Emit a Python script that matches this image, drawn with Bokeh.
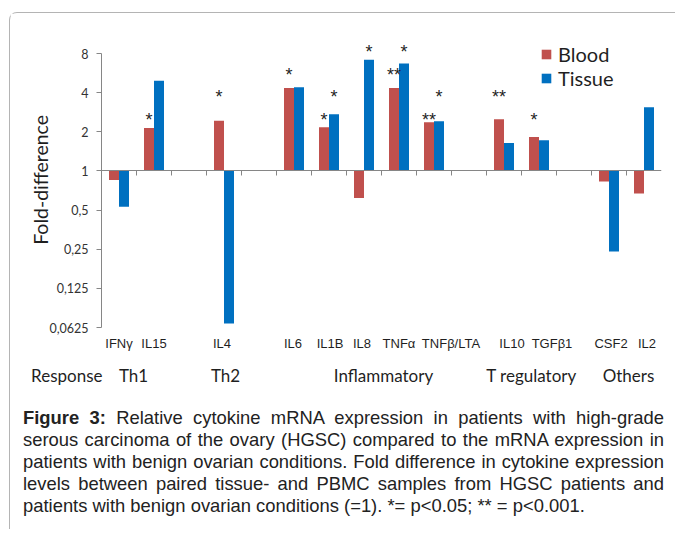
import html
import math
from bokeh.plotting import figure
from bokeh.models import (Range1d, FixedTicker, LinearAxis, CustomJSTickFormatter, Div)
from bokeh.layouts import column
from bokeh.embed import file_html
from bokeh.resources import INLINE
from bokeh.core.properties import value

# ---------------- data ----------------
row_header = "Response"
groups = ["Th1", "Th2", "Inflammatory", "T regulatory", "Others"]
group_members = [["IFNγ", "IL15"],
                 ["IL4"],
                 ["IL6", "IL1B", "IL8", "TNFα", "TNFβ/LTA"],
                 ["IL10", "TGFβ1"],
                 ["CSF2", "IL2"]]
cytokines = [c for g in group_members for c in g]

series_names = ["Blood", "Tissue"]
blood = [0.85, 2.14, 2.43, 4.35, 2.17, 0.62, 4.35, 2.37, 2.50, 1.82, 0.83, 0.67]
tissue = [0.53, 4.93, 0.067, 4.41, 2.73, 7.16, 6.70, 2.41, 1.64, 1.72, 0.24, 3.09]

blood_sig = ["", "*", "*", "*", "*", "", "**", "**", "**", "*", "", ""]
blood_sig_level = [None, 2.6, 3.9, 5.8, 2.6, None, 5.8, 2.6, 3.9, 2.6, None, None]
tissue_sig = ["", "", "", "", "*", "*", "*", "*", "", "", "", ""]
tissue_sig_level = [None, None, None, None, 3.9, 8.7, 8.7, 3.9, None, None, None, None]

y_ticks = [0.0625, 0.125, 0.25, 0.5, 1, 2, 4, 8]
baseline = 1
y_label = "Fold-difference"

caption_bold = "Figure 3:"
caption_text = ("Relative cytokine mRNA expression in patients with high-grade serous carcinoma "
                "of the ovary (HGSC) compared to the mRNA expression in patients with benign "
                "ovarian conditions. Fold difference in cytokine expression levels between paired "
                "tissue- and PBMC samples from HGSC patients and patients with benign ovarian "
                "conditions (=1). *= p<0.05; ** = p<0.001.")

# ---------------- styling / layout helpers ----------------
# one empty slot between groups
slots = []
pos = 0
for gi, members in enumerate(group_members):
    if gi > 0:
        pos += 1
    for _ in members:
        slots.append(pos)
        pos += 1
n_slots = pos
centers = [s + 0.5 for s in slots]

SLOT_PX = 35.0
label_nudge_px = [0, 0, -2, -1, 1, -2, 0, 17, 8, 13, 2, 3]
group_nudge_px = [-3, 1.5, 19.5, 10, 2]

RED = "#C0504D"
BLUE = "#0070C0"
AXIS = "#868686"
TXT = "#1f1f1f"

FIG_W, FIG_H = 656, 388
MB_L, MB_R, MB_T, MB_B = 10, 5, 22, 5
LEFT_GUTTER_PX = 81            # room left of the value axis inside the frame
PLOT_H_PX = 292                 # height from 0.0625 up to frame top
px_per_doubling = 274 / 7
frame_w = FIG_W - MB_L - MB_R
frame_h = FIG_H - MB_T - MB_B

x_start = -LEFT_GUTTER_PX / SLOT_PX
x_end = x_start + frame_w / SLOT_PX
y_top = y_ticks[0] * 2 ** (PLOT_H_PX / px_per_doubling)
y_bottom = y_ticks[0] * 2 ** (-(frame_h - PLOT_H_PX) / px_per_doubling)
group_row_y = y_ticks[0] * 2 ** (-48 / px_per_doubling)
ylab_x = -61 / SLOT_PX                          # 61 px left of the value axis
ylab_y = baseline * 2 ** (-9 / px_per_doubling)  # 9 px below the baseline

p = figure(width=FIG_W, height=FIG_H,
           x_range=Range1d(x_start, x_end), y_range=Range1d(y_bottom, y_top),
           y_axis_type="log", output_backend="svg", toolbar_location=None,
           min_border_left=MB_L, min_border_right=MB_R,
           min_border_top=MB_T, min_border_bottom=MB_B)
p.outline_line_color = None
p.xgrid.visible = False
p.ygrid.visible = False
p.background_fill_color = "white"
p.border_fill_color = "white"

# y (value) axis, drawn at x = 0
yax = p.yaxis[0]
yax.fixed_location = 0
yax.ticker = FixedTicker(ticks=y_ticks)
yax.formatter = CustomJSTickFormatter(code="return String(tick).replace('.', ',');")
yax.bounds = (y_ticks[0], y_ticks[-1])
yax.major_tick_out = 5
yax.major_tick_in = 0
yax.minor_tick_line_color = None
yax.axis_line_color = AXIS
yax.major_tick_line_color = AXIS
yax.major_label_text_font = "Lato"
yax.major_label_text_font_size = "12.5px"
yax.major_label_text_color = "#333333"
yax.major_label_standoff = 8

# y axis title
p.text(x=[ylab_x], y=[ylab_y], text=[y_label], angle=math.pi / 2,
       text_align="center", text_baseline="middle",
       text_font=value("Lato"), text_font_size="19.5px", text_color=TXT)

# category labels under the plot
label_pos = [c + n / SLOT_PX for c, n in zip(centers, label_nudge_px)]
xax = p.xaxis[0]
xax.fixed_location = y_ticks[0]
xax.ticker = FixedTicker(ticks=label_pos)
xax.formatter = CustomJSTickFormatter(
    args=dict(names=cytokines, pos=label_pos),
    code="""let b = 0;
for (let k = 0; k < pos.length; k++) {
  if (Math.abs(pos[k] - tick) < Math.abs(pos[b] - tick)) b = k;
}
return names[b];""")
xax.axis_line_color = None
xax.major_tick_line_color = None
xax.minor_tick_line_color = None
xax.major_label_text_font = "Liberation Sans"
xax.major_label_text_font_size = "13px"
xax.major_label_text_color = TXT
xax.major_label_standoff = 2

# base line at fold = 1 with ticks between categories
base_axis = LinearAxis(fixed_location=baseline,
                       ticker=FixedTicker(ticks=list(range(n_slots + 1))),
                       formatter=CustomJSTickFormatter(code="return '';"),
                       bounds=(0, n_slots),
                       major_tick_in=5, major_tick_out=0,
                       minor_tick_line_color=None,
                       axis_line_color=AXIS, major_tick_line_color=AXIS,
                       major_label_standoff=0)
p.add_layout(base_axis, "above")

# bars
off = 5 / SLOT_PX
bw = 10 / SLOT_PX
p.vbar(x=[c - off for c in centers], top=blood, bottom=baseline, width=bw,
       fill_color=RED, line_color=None, legend_label=series_names[0])
p.vbar(x=[c + off for c in centers], top=tissue, bottom=baseline, width=bw,
       fill_color=BLUE, line_color=None, legend_label=series_names[1])

# significance stars
sx, sy, st = [], [], []
for i, c in enumerate(centers):
    if blood_sig[i]:
        sx.append(c - off); sy.append(blood_sig_level[i]); st.append(blood_sig[i])
    if tissue_sig[i]:
        sx.append(c + off); sy.append(tissue_sig_level[i]); st.append(tissue_sig[i])
p.text(x=sx, y=sy, text=st, text_align="center", text_baseline="middle", y_offset=3,
       text_font=value("Liberation Sans"), text_font_size="18px", text_color=TXT)

# legend
leg = p.legend[0]
leg.location = (439 + LEFT_GUTTER_PX, 237 + (frame_h - PLOT_H_PX))
leg.border_line_color = None
leg.background_fill_alpha = 0
leg.padding = 0
leg.margin = 0
leg.spacing = 0
leg.glyph_width = 12
leg.glyph_height = 12
leg.label_standoff = 6
leg.label_height = 23
leg.label_text_font = "Lato"
leg.label_text_font_size = "20px"
leg.label_text_color = TXT

# group labels row
gxs = []
for members in group_members:
    idx = [cytokines.index(m) for m in members]
    gxs.append(sum(centers[k] for k in idx) / len(idx))
p.text(x=gxs, y=[group_row_y] * len(groups), text=groups, x_offset=group_nudge_px,
       text_align="center", text_baseline="middle",
       text_font=value("Lato"), text_font_size="17px", text_color=TXT)
p.text(x=[0], y=[group_row_y], text=[row_header], x_offset=1,
       text_align="right", text_baseline="middle",
       text_font=value("Lato"), text_font_size="17px", text_color=TXT)

cap_html = ('<div style="font-family:\'Liberation Sans\', Arial, sans-serif; font-size:18.4px; '
            'line-height:22px; text-align:justify; color:#222; width:641px;">'
            f'<b>{html.escape(caption_bold)}</b> {html.escape(caption_text)}</div>')
cap = Div(text=cap_html, width=641, margin=(6, 11, 12, 13))

layout = column(p, cap, margin=(12, 0, 0, 9),
                styles={"border-top": "1.5px solid #b4b4b4",
                        "border-left": "1.5px solid #b4b4b4",
                        "border-top-left-radius": "8px"})

open("out.html", "w", encoding="utf-8").write(file_html(layout, INLINE, "Figure 3"))
